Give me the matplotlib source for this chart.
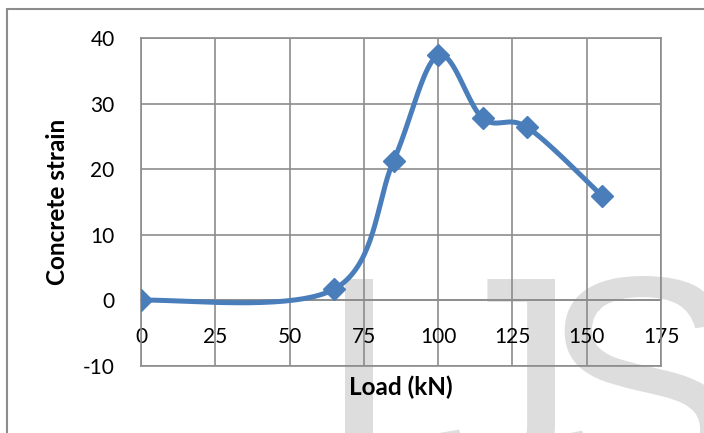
import numpy as np
import matplotlib
matplotlib.use('Agg')
from matplotlib import pyplot as plt
from matplotlib.patches import Rectangle, PathPatch
from matplotlib.textpath import TextPath
from matplotlib.font_manager import FontProperties
from matplotlib.transforms import Affine2D

plt.rcParams['axes.unicode_minus'] = False

load = [0, 65, 85, 100, 115, 130, 155]
strain = [0.0, 1.7, 21.3, 37.4, 27.8, 26.4, 16.0]

xticks = [0, 25, 50, 75, 100, 125, 150, 175]
yticks = [-10, 0, 10, 20, 30, 40]

blue = '#4a7ebb'
grid_grey = '#8c8c8c'
W, H = 704, 433


def smooth(xs, ys, n=40):
    # bezier smoothing like a spreadsheet "smoothed line"
    p = np.column_stack([xs, ys]).astype(float)
    p = np.vstack([p[0], p, p[-1]])
    out = []
    for i in range(1, len(p) - 2):
        p0, p1, p2, p3 = p[i - 1], p[i], p[i + 1], p[i + 2]
        c1 = p1 + (p2 - p0) / 6.0
        c2 = p2 - (p3 - p1) / 6.0
        t = np.linspace(0, 1, n)[:, None]
        seg = ((1 - t) ** 3) * p1 + 3 * ((1 - t) ** 2) * t * c1 \
            + 3 * (1 - t) * t ** 2 * c2 + t ** 3 * p2
        out.append(seg)
    s = np.vstack(out)
    return s[:, 0], s[:, 1]


fig = plt.figure(figsize=(W / 100, H / 100), dpi=100)

# faint watermark letters behind the chart, placed in pixel units
wm_font = FontProperties(family='Liberation Sans')
stem = TextPath((0, 0), 'I', size=1, prop=wm_font).get_extents().width
size = 28 / stem


def watermark(ch, x, top, anchor='left'):
    path = TextPath((0, 0), ch, size=size, prop=wm_font)
    ext = path.get_extents()
    dx = x - (ext.x0 if anchor == 'left' else ext.x1)
    dy = (H - top) - ext.y1
    tr = Affine2D().translate(dx, dy).scale(1 / W, 1 / H) + fig.transFigure
    fig.patches.append(PathPatch(path, transform=tr, facecolor='#dddddd',
                                 edgecolor='none', zorder=-5))


watermark('I', 345, 279)
watermark('J', 555, 279, anchor='right')
watermark('S', 555, 276)

# outer frame of the chart area
fig.patches.append(Rectangle((7 / W, -0.5), 2, 1.5 - 9 / H,
                             transform=fig.transFigure, fill=False,
                             edgecolor=grid_grey, linewidth=1.5, zorder=-4))

ax = fig.add_axes([141 / W, 1 - 365.8 / H, 520 / W, 327.5 / H])
ax.set_zorder(1)
ax.patch.set_alpha(0)

sx, sy = smooth(load, strain)
ax.plot(sx, sy, color=blue, linewidth=3.6, solid_capstyle='round', zorder=3)
ax.plot(load, strain, linestyle='none', marker='D', markersize=11.5,
        color=blue, zorder=4)

ax.set_xlim(0, 175)
ax.set_ylim(-10, 40)
ax.set_xticks(xticks)
ax.set_yticks(yticks)
ax.grid(True, color=grid_grey, linewidth=1.2)
ax.set_axisbelow(True)

for s in ['top', 'right', 'left']:
    ax.spines[s].set_color(grid_grey)
    ax.spines[s].set_linewidth(1.2)
ax.spines['bottom'].set_position(('data', 0))
ax.spines['bottom'].set_color(grid_grey)
ax.spines['bottom'].set_linewidth(1.2)
ax.axhline(-10, color=grid_grey, linewidth=1.2, clip_on=False)

ax.tick_params(axis='x', length=0, pad=19, labelsize=15)
ax.tick_params(axis='y', length=0, pad=19, labelsize=15)
for lab in ax.get_xticklabels() + ax.get_yticklabels():
    lab.set_family('Lato')

ax.set_xlabel('Load (kN)', fontsize=17.5, fontweight='bold', family='Lato')
ax.xaxis.set_label_coords(0.5, -0.065)
ax.xaxis.label.set_va('center')
ax.set_ylabel('Concrete strain', fontsize=17.5, fontweight='bold', family='Lato')
ax.yaxis.set_label_coords(-0.16, 0.5)
ax.yaxis.label.set_va('center')

fig.savefig('out.png', dpi=100)
